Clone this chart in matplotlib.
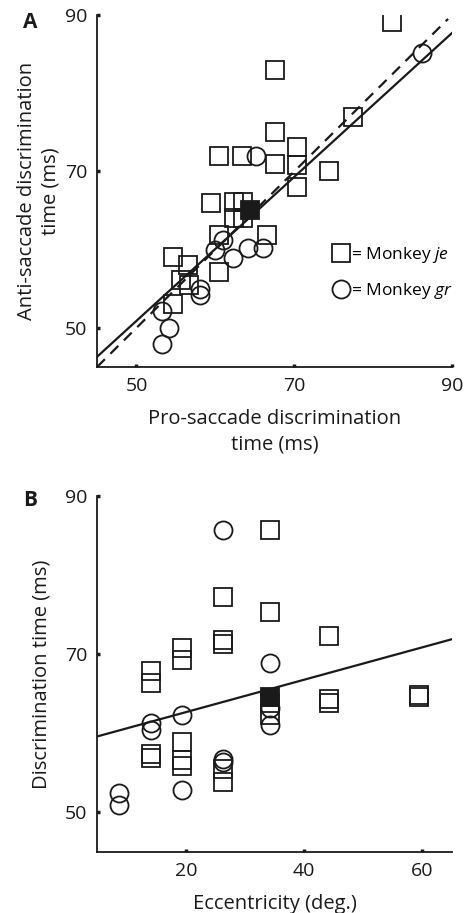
import matplotlib
matplotlib.use("Agg")
import matplotlib.pyplot as plt
from matplotlib.lines import Line2D

plt.rcParams['font.family'] = ['Open Sans', 'DejaVu Sans']
plt.rcParams['mathtext.fontset'] = 'custom'
plt.rcParams['mathtext.it'] = 'Open Sans:italic'
plt.rcParams['mathtext.rm'] = 'Open Sans'

# Panel A: pro- vs anti-saccade discrimination time (ms)
pro_je = [82.4, 67.5, 67.5, 77.5, 60.5, 63.4, 70.3, 67.5, 70.3, 74.4, 70.3, 59.5,
          62.4, 63.5, 62.4, 63.5, 54.6, 56.5, 55.6, 56.6, 54.6, 60.5, 60.5, 66.5]
anti_je = [89.1, 83.0, 75.1, 76.9, 72.0, 72.0, 73.1, 71.0, 70.8, 70.0, 68.0, 66.0,
           66.1, 66.1, 64.1, 64.1, 59.1, 58.0, 56.1, 55.5, 53.0, 57.1, 61.9, 61.9]
pro_gr = [86.2, 65.1, 61.0, 60.0, 62.2, 64.1, 66.1, 58.1, 58.1, 53.2, 54.1, 53.2]
anti_gr = [85.2, 72.0, 61.2, 60.0, 58.9, 60.2, 60.2, 55.0, 54.2, 52.2, 50.0, 48.0]
pro_filled = [64.4]
anti_filled = [65.1]
fit_a_x = [45, 90]
fit_a_y = [46.3, 87.7]
unity_x = [45, 89.5]

# Panel B: eccentricity (deg.) vs discrimination time (ms)
ecc_je = [34.2, 26.3, 34.2, 44.2, 26.3, 26.3, 19.3, 19.3, 14.2, 14.2, 34.2, 34.2,
          44.2, 44.2, 59.5, 59.5, 14.2, 14.2, 19.3, 19.3, 19.3, 26.3, 26.3]
dt_je = [85.7, 77.2, 75.3, 72.3, 71.8, 71.3, 70.8, 69.3, 67.9, 66.4, 63.8, 62.3,
         64.3, 63.8, 64.8, 64.6, 57.4, 56.9, 58.9, 56.6, 55.9, 55.5, 53.9]
ecc_gr = [26.3, 34.2, 34.2, 34.2, 14.2, 14.2, 19.3, 19.3, 26.3, 26.3, 8.8, 8.8]
dt_gr = [85.7, 68.9, 63.2, 61.1, 61.3, 60.4, 62.3, 52.9, 56.8, 56.4, 52.4, 51.0]
ecc_filled = [34.2]
dt_filled = [64.6]
fit_b_x = [5, 65]
fit_b_y = [59.6, 71.9]

MS = 13
MEW = 1.3
INK = '#1a1a1a'


def style_axes(ax, xlim, ylim, xticks, yticks):
    ax.set_xlim(*xlim)
    ax.set_ylim(*ylim)
    ax.set_xticks(xticks)
    ax.set_yticks(yticks)
    for side in ('top', 'right'):
        ax.spines[side].set_visible(False)
    for side in ('left', 'bottom'):
        ax.spines[side].set_linewidth(1.3)
        ax.spines[side].set_color(INK)
    ax.tick_params(direction='in', length=2.5, width=2.5, labelsize=14, pad=7,
                   colors=INK)


fig = plt.figure(figsize=(4.65, 9.13), dpi=100)
ax1 = fig.add_axes([97 / 465, 1 - 367 / 913, 355 / 465, 352 / 913])
ax2 = fig.add_axes([97 / 465, 1 - 852 / 913, 355 / 465, 356 / 913])

# --- panel A
ax1.plot(unity_x, unity_x, color=INK, lw=1.6, ls=(0, (5, 3.5)))
ax1.plot(fit_a_x, fit_a_y, color=INK, lw=1.6)
ax1.plot(pro_je, anti_je, ls='none', marker='s', ms=MS, mfc='none', mec=INK, mew=MEW)
ax1.plot(pro_gr, anti_gr, ls='none', marker='o', ms=MS, mfc='none', mec=INK, mew=MEW)
ax1.plot(pro_filled, anti_filled, ls='none', marker='s', ms=MS, mfc=INK, mec=INK, mew=MEW)
style_axes(ax1, (45, 90), (45, 90), [50, 70, 90], [50, 70, 90])
ax1.set_xlabel('Pro-saccade discrimination\ntime (ms)', fontsize=14.5, labelpad=10,
               linespacing=1.4, color=INK)
ax1.set_ylabel('Anti-saccade discrimination\ntime (ms)', fontsize=14.5, labelpad=3,
               linespacing=1.25, color=INK)

handles = [
    Line2D([], [], ls='none', marker='s', ms=MS, mfc='none', mec=INK, mew=MEW),
    Line2D([], [], ls='none', marker='o', ms=MS, mfc='none', mec=INK, mew=MEW),
]
ax1.legend(handles, ['= Monkey $\\it{je}$', '= Monkey $\\it{gr}$'], loc='upper left',
           bbox_to_anchor=(0.64, 0.365), frameon=False, fontsize=12.5,
           handletextpad=0.05, labelspacing=0.9, handlelength=1.1, borderaxespad=0)

# --- panel B
ax2.plot(fit_b_x, fit_b_y, color=INK, lw=1.6)
ax2.plot(ecc_je, dt_je, ls='none', marker='s', ms=MS, mfc='none', mec=INK, mew=MEW)
ax2.plot(ecc_gr, dt_gr, ls='none', marker='o', ms=MS, mfc='none', mec=INK, mew=MEW)
ax2.plot(ecc_filled, dt_filled, ls='none', marker='s', ms=MS, mfc=INK, mec=INK, mew=MEW)
style_axes(ax2, (5, 65), (45, 90), [20, 40, 60], [50, 70, 90])
ax2.set_xlabel('Eccentricity (deg.)', fontsize=14.5, labelpad=10, color=INK)
ax2.set_ylabel('Discrimination time (ms)', fontsize=14.5, labelpad=10, color=INK)

fig.text(30 / 465, 1 - 22 / 913, 'A', fontsize=15, fontweight='bold', ha='center',
         va='center', color=INK)
fig.text(30 / 465, 1 - 500 / 913, 'B', fontsize=15, fontweight='bold', ha='center',
         va='center', color=INK)

fig.savefig('out.png', dpi=100)
